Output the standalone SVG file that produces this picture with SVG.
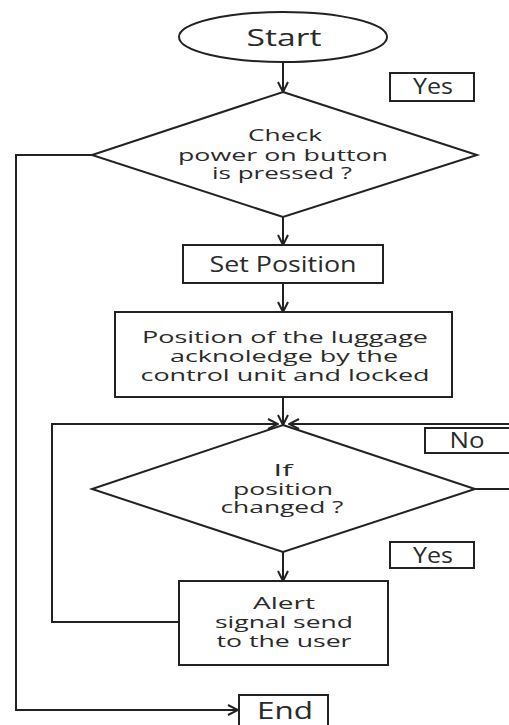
<svg xmlns="http://www.w3.org/2000/svg" width="509" height="725" viewBox="0 0 509 725">
<style>
.s{fill:#fff;stroke:#222;stroke-width:2}
.c{fill:none;stroke:#222;stroke-width:2}
text{font-family:"Open Sans","DejaVu Sans",sans-serif;fill:#2a2a2a;text-anchor:middle}
.b{font-size:17px}
.m{font-size:21px}
.l{font-size:24px}
</style>
<defs>
<marker id="a" viewBox="0 0 12 12" refX="11" refY="6" markerWidth="12" markerHeight="12" markerUnits="userSpaceOnUse" orient="auto">
<path d="M1,1 L11,6 L1,11" fill="none" stroke="#222" stroke-width="2"/>
</marker>
</defs>
<g id="connectors">
<path class="c" d="M283,63 V92" marker-end="url(#a)"/>
<path class="c" d="M283,217 V245" marker-end="url(#a)"/>
<path class="c" d="M283,283 V312" marker-end="url(#a)"/>
<path class="c" d="M283,397 V425" marker-end="url(#a)"/>
<path class="c" d="M283,552 V581" marker-end="url(#a)"/>
<path class="c" d="M92,155 H16 V710 H238" marker-end="url(#a)"/>
<path class="c" d="M179,622 H52 V424 H278" marker-end="url(#a)"/>
<path class="c" d="M475,489 H515 V424 H289" marker-end="url(#a)"/>
</g>
<g id="start">
<ellipse class="s" cx="283" cy="37" rx="104" ry="25"/>
<text class="l" x="284" y="46" textLength="75" lengthAdjust="spacingAndGlyphs">Start</text>
</g>
<g id="yes1">
<rect class="s" x="390" y="73" width="84" height="28"/>
<text class="m" x="433" y="94" textLength="40" lengthAdjust="spacingAndGlyphs">Yes</text>
</g>
<g id="check">
<polygon class="s" points="283,92 477,155 283,217 92,155"/>
<text class="b" x="285" y="141" textLength="74" lengthAdjust="spacingAndGlyphs">Check</text>
<text class="b" x="283" y="161" textLength="210" lengthAdjust="spacingAndGlyphs">power on button</text>
<text class="b" x="282" y="179" textLength="140" lengthAdjust="spacingAndGlyphs">is pressed ?</text>
</g>
<g id="setpos">
<rect class="s" x="183" y="245" width="200" height="38"/>
<text class="m" x="283" y="272" textLength="147" lengthAdjust="spacingAndGlyphs">Set Position</text>
</g>
<g id="ack">
<rect class="s" x="115" y="312" width="337" height="85"/>
<text class="b" x="285" y="343" textLength="286" lengthAdjust="spacingAndGlyphs">Position of the luggage</text>
<text class="b" x="284" y="362" textLength="228" lengthAdjust="spacingAndGlyphs">acknoledge by the</text>
<text class="b" x="285" y="381" textLength="289" lengthAdjust="spacingAndGlyphs">control unit and locked</text>
</g>
<g id="no">
<rect class="s" x="425" y="428" width="88" height="25"/>
<text class="m" x="467" y="448" textLength="35" lengthAdjust="spacingAndGlyphs">No</text>
</g>
<g id="ifpos">
<polygon class="s" points="283,425 475,489 283,552 92,489"/>
<text class="b" x="283" y="476" textLength="19" lengthAdjust="spacingAndGlyphs">If</text>
<text class="b" x="283" y="495" textLength="100" lengthAdjust="spacingAndGlyphs">position</text>
<text class="b" x="282" y="513" textLength="123" lengthAdjust="spacingAndGlyphs">changed ?</text>
</g>
<g id="yes2">
<rect class="s" x="390" y="542" width="84" height="26"/>
<text class="m" x="433" y="563" textLength="40" lengthAdjust="spacingAndGlyphs">Yes</text>
</g>
<g id="alert">
<rect class="s" x="179" y="581" width="209" height="84"/>
<text class="b" x="284" y="609" textLength="62" lengthAdjust="spacingAndGlyphs">Alert</text>
<text class="b" x="284" y="628" textLength="138" lengthAdjust="spacingAndGlyphs">signal send</text>
<text class="b" x="284" y="647" textLength="135" lengthAdjust="spacingAndGlyphs">to the user</text>
</g>
<g id="end">
<rect class="s" x="239" y="695" width="89" height="36"/>
<text class="l" x="285" y="719" textLength="56" lengthAdjust="spacingAndGlyphs">End</text>
</g>
</svg>
